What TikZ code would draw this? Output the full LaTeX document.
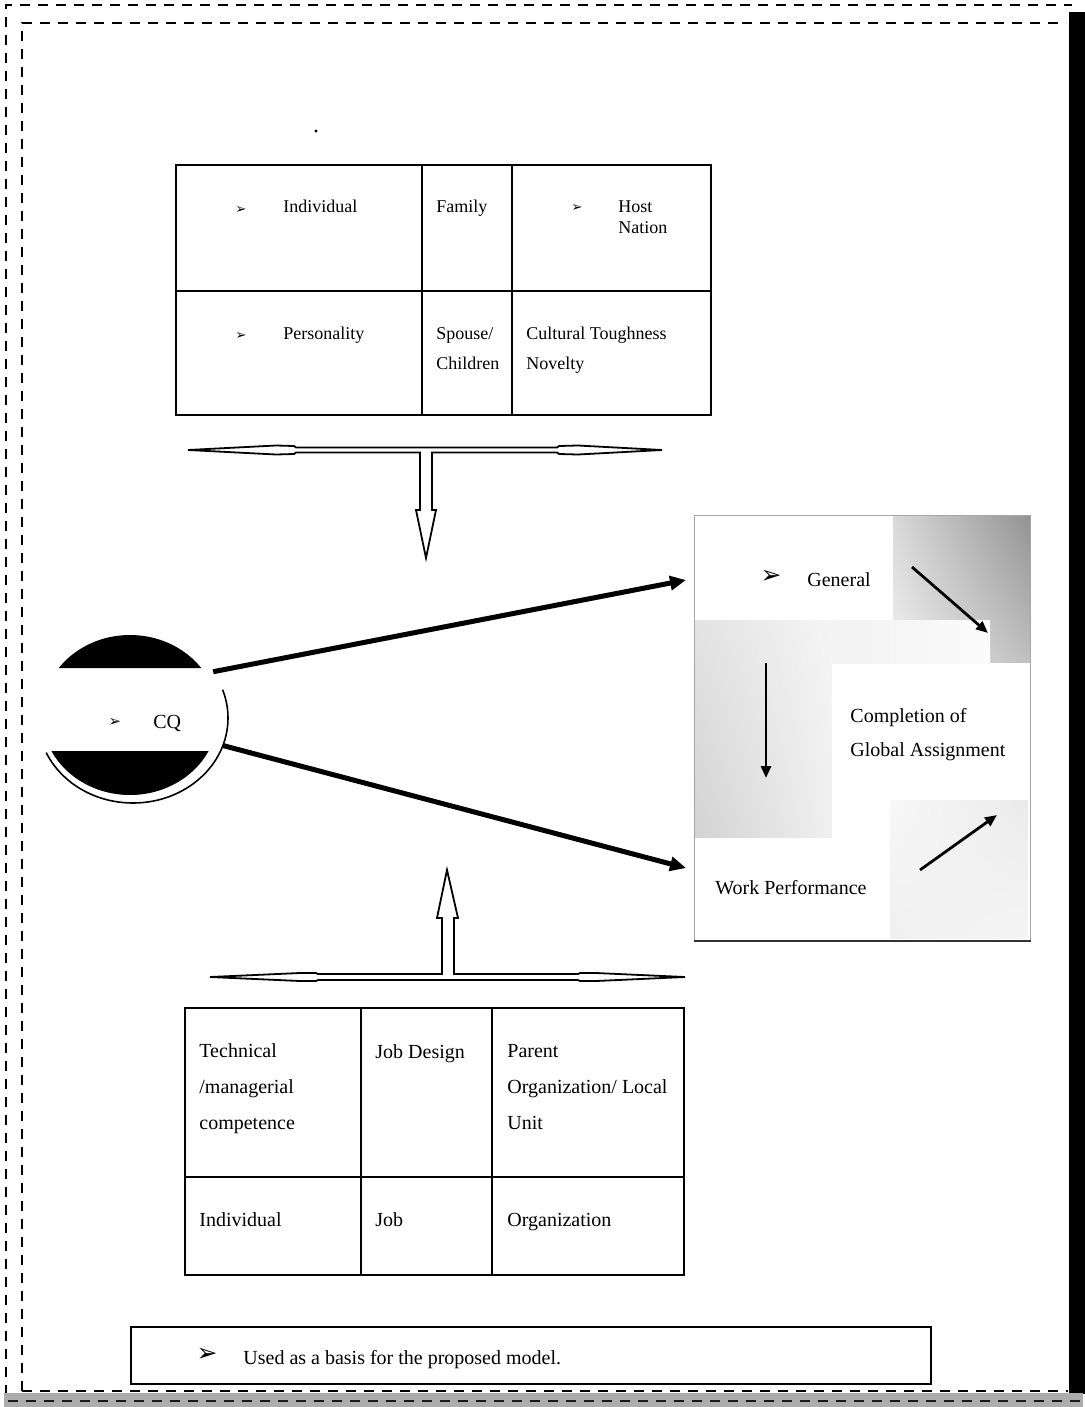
\documentclass[tikz,border=0pt]{standalone}
\usepackage{fontspec}
\setmainfont{Liberation Serif}
\newfontfamily\dingfont{DejaVu Sans}
\usetikzlibrary{arrows.meta,shapes.geometric,shadings}
\newcommand{\arrbul}[1]{{\dingfont\fontsize{#1}{#1}\selectfont ➢}}

\begin{document}
\begin{tikzpicture}[x=0.5pt,y=-0.5pt,
  cell/.style={anchor=base west,align=left,font=\fontsize{9}{15}\selectfont},
  lbl/.style={anchor=base west,align=left,font=\fontsize{10}{18}\selectfont},
  grid/.style={draw=black,line width=1pt},
  hollow/.style={draw=black,line width=0.9pt,fill=white,line join=miter},
  mainarrow/.style={line width=2.5pt,-{Triangle[length=8pt,width=7pt]}},
  innerarrow/.style={line width=1.4pt,-{Triangle[length=6pt,width=5pt]}},
  frame/.style={dash pattern=on 5pt off 4pt,line width=1pt}]
		\tikzstyle{every node}+=[inner sep=0pt]
		\useasboundingbox (0,0) rectangle (1085,1407);
		\draw[frame] (6,1395) -- (6,5) -- (1072,5);
		\draw[frame] (22,1391) -- (22,23) -- (1066,23);
		\fill[black] (1069,12) rectangle (1085,1394);
		\fill[gray!65] (4,1393) rectangle (1083,1407);
		\draw[frame] (22,1391) -- (1068,1391);
		\draw[frame,gray!20!black] (8,1401) -- (1080,1401);
		\fill (316,131) circle (0.8pt);
		\draw[grid] (176,165) rectangle (711,415);
		\draw[grid] (422,165) -- (422,415) (512,165) -- (512,415) (176,291) -- (711,291);
		\node (indbul) at (241,210) {\arrbul{6.5}};
		\node (indiv) [cell] at (283,213) {Individual};
		\node (family) [cell] at (436,213) {Family};
		\node (hostbul) at (577,208) {\arrbul{6.5}};
		\node (host) [cell,font=\fontsize{9}{10.5}\selectfont] at (618,234) {Host\\Nation};
		\node (persbul) at (241,336) {\arrbul{6.5}};
		\node (pers) [cell] at (283,339) {Personality};
		\node (spouse) [cell] at (436,369) {Spouse/\\Children};
		\node (tough) [cell] at (526,369) {Cultural Toughness\\Novelty};
		\draw[hollow] (188,450) -- (276,445.5) -- (294,446) -- (296,447.5) -- (557,447.5) -- (559,446) -- (578,445.5) -- (662,450) -- (578,454.5) -- (559,454) -- (557,452.5) -- (432,452.5) -- (432,510) -- (436,510) -- (426,558) -- (416,510) -- (420,510) -- (420,452.5) -- (296,452.5) -- (294,454) -- (276,454.5) -- cycle;
		\draw[hollow] (210,977) -- (300,973) -- (316,973) -- (318,974) -- (442,974) -- (442,918) -- (437,918) -- (447,870) -- (458,918) -- (454,918) -- (454,974) -- (578,974) -- (580,973) -- (596,973) -- (685,977) -- (596,981) -- (580,981) -- (578,980) -- (318,980) -- (316,981) -- (300,981) -- cycle;
		\node (cq) [ellipse,minimum width=95pt,minimum height=85pt] at (133,718) {};
		\begin{scope}
			\clip (30,600) rectangle (240,668) (30,751) rectangle (240,820);
			\fill (130,715) ellipse [x radius=44pt,y radius=40pt];
		\end{scope}
		\begin{scope}
			\clip (133,718) -- (20,763) -- (20,830) -- (250,830) -- (250,681) -- cycle;
			\draw[line width=0.8pt] (cq.center) ellipse [x radius=47.5pt,y radius=42.5pt];
		\end{scope}
		\node (cqbul) at (115,722) {\arrbul{7.5}};
		\node (cqlabel) [lbl] at (153,728) {CQ};
		\shade[upper left=gray!30,upper right=gray!85,lower left=gray!12,lower right=gray!50] (893,515) rectangle (1030,662);
		\shade[upper left=gray!22,upper right=gray!8,lower left=gray!35,lower right=gray!12] (694,620) rectangle (832,837);
		\shade[left color=gray!10,right color=gray!3] (832,620) rectangle (990,663);
		\shade[upper left=gray!6,upper right=gray!16,lower left=gray!12,lower right=gray!8] (890,800) rectangle (1028,938);
		\node (outcome) [draw=gray!70,line width=0.6pt,minimum width=168pt,minimum height=212.5pt,anchor=north west] at (694,515) {};
		\draw[gray!40!black,line width=1pt] (outcome.south west) -- (outcome.south east);
		\node (genbul) at (771,577) {\arrbul{12.5}};
		\node (general) [lbl] at (807,586) {General};
		\node (completion) [lbl,font=\fontsize{10}{17}\selectfont] at (850,756) {Completion of\\Global Assignment};
		\node (work) [lbl] at (715,894) {Work Performance};
		\coordinate (g1) at (912,567);
		\coordinate (g2) at (988,633);
		\coordinate (v1) at (766,663);
		\coordinate (v2) at (766,778);
		\coordinate (w1) at (920,870);
		\coordinate (w2) at (997,815);
		\draw[innerarrow] (g1) -- (g2);
		\draw[innerarrow] (v1) -- (v2);
		\draw[innerarrow] (w1) -- (w2);
		\coordinate (toGen) at (686,580);
		\coordinate (toWork) at (686,868);
		\draw[mainarrow] (cq.30) -- (toGen);
		\draw[mainarrow] (cq.-17) -- (toWork);
		\draw[grid] (185,1008) rectangle (684,1275);
		\draw[grid] (361,1008) -- (361,1275) (492,1008) -- (492,1275) (185,1177) -- (684,1177);
		\node (tech) [lbl] at (199,1129) {Technical\\/managerial\\competence};
		\node (jobdesign) [lbl] at (375,1058) {Job Design};
		\node (parent) [lbl] at (507,1129) {Parent\\Organization/ Local\\Unit};
		\node (indiv2) [lbl] at (199,1226) {Individual};
		\node (job) [lbl] at (375,1226) {Job};
		\node (org) [lbl] at (507,1226) {Organization};
		\node (legend) [draw,line width=0.8pt,minimum width=400pt,minimum height=28.5pt,anchor=north west] at (130,1326) {};
		\node (legbul) at (207,1355) {\arrbul{12.5}};
		\node (legtext) [lbl] at (243,1364) {Used as a basis for the proposed model.};
	\end{tikzpicture}
\end{document}
